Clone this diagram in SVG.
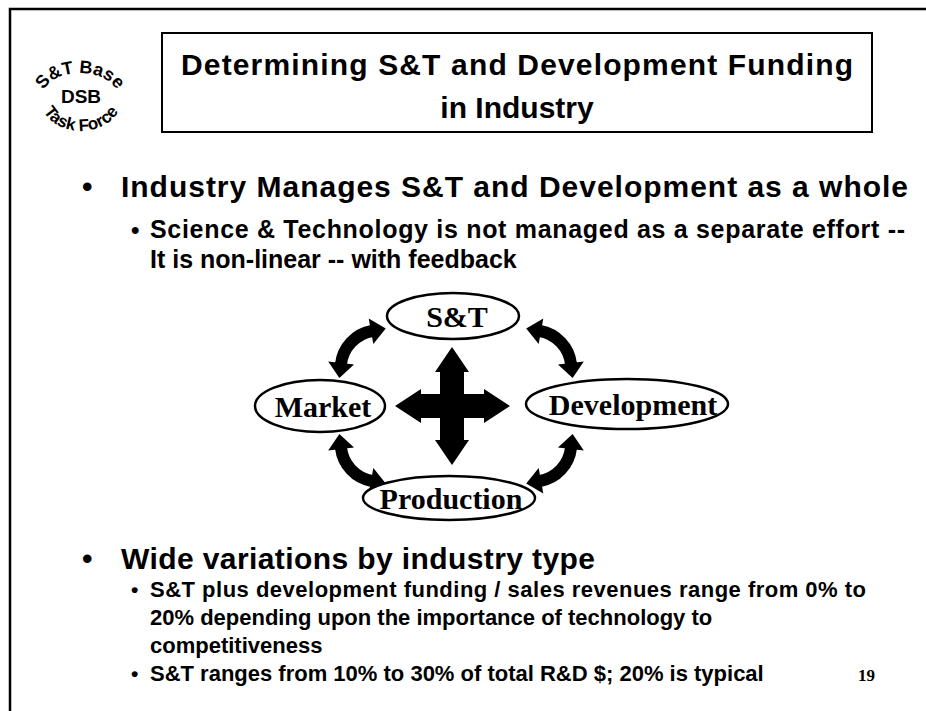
<svg xmlns="http://www.w3.org/2000/svg" width="926" height="711" viewBox="0 0 926 711">
<style>
.sans{font-family:"Liberation Sans",Arial,sans-serif;font-weight:bold;fill:#000}
.serif{font-family:"Liberation Serif","Times New Roman",serif;font-weight:bold;fill:#000}
.node ellipse{fill:#fff;stroke:#000;stroke-width:2.5}
.carrow{fill:none;stroke:#000;stroke-width:12;marker-start:url(#head);marker-end:url(#head)}
</style>
<defs>
<marker id="head" markerUnits="userSpaceOnUse" markerWidth="30" markerHeight="30" viewBox="-2 -15 20 30" refX="1" refY="0" orient="auto-start-reverse">
<path d="M0,-13 L15,0 L0,13 Z" fill="#000"/>
</marker>
<path id="arcTop" d="M 42 97 A 38 24 0 0 1 118 97"/>
<path id="arcBot" d="M 40 98 A 41 33 0 0 0 122 98"/>
</defs>
<rect width="926" height="711" fill="#fff"/>
<g id="frame" fill="none" stroke="#000" stroke-width="2.5">
<path d="M 10 711 L 10 9 L 926 9"/>
</g>
<g id="logo">
<text class="sans" font-size="18"><textPath href="#arcTop" startOffset="50%" text-anchor="middle">S&amp;T Base</textPath></text>
<text class="sans" x="81" y="103" font-size="19" text-anchor="middle">DSB</text>
<text class="sans" font-size="17"><textPath href="#arcBot" startOffset="50%" text-anchor="middle">Task Force</textPath></text>
</g>
<g id="title">
<rect x="162" y="33" width="710" height="99" fill="none" stroke="#000" stroke-width="2"/>
<text class="sans" x="517" y="75" font-size="30" text-anchor="middle" textLength="672">Determining S&amp;T and Development Funding</text>
<text class="sans" x="517" y="118" font-size="30" text-anchor="middle">in Industry</text>
</g>
<g id="bullets-top">
<text class="sans" x="82" y="197" font-size="30">•</text>
<text class="sans" x="121" y="197" font-size="30" textLength="787">Industry Manages S&amp;T and Development as a whole</text>
<text class="sans" x="131" y="238" font-size="24">•</text>
<text class="sans" x="150" y="238" font-size="25" textLength="755">Science &amp; Technology is not managed as a separate effort --</text>
<text class="sans" x="150" y="268" font-size="25">It is non-linear -- with feedback</text>
</g>
<g id="connectors">
<path class="carrow" d="M 372 331 A 38 38 0 0 0 341 364"/>
<path class="carrow" d="M 540 331 A 38 38 0 0 1 571 364"/>
<path class="carrow" d="M 372 481 A 38 38 0 0 1 341 448"/>
<path class="carrow" d="M 540 481 A 38 38 0 0 0 571 448"/>
<polygon fill="#000" points="452,347 469,372 464,372 464,394 484,394 484,389 510,406 484,423 484,418 464,418 464,440 469,440 452,465 435,440 440,440 440,418 421,418 421,423 395,406 421,389 421,394 440,394 440,372 435,372"/>
</g>
<g id="node-st" class="node">
<ellipse cx="453" cy="316" rx="66" ry="23"/>
<text class="serif" x="457" y="327" font-size="30" text-anchor="middle">S&amp;T</text>
</g>
<g id="node-market" class="node">
<ellipse cx="320" cy="406" rx="65" ry="26"/>
<text class="serif" x="323" y="417" font-size="30" text-anchor="middle">Market</text>
</g>
<g id="node-development" class="node">
<ellipse cx="627" cy="404" rx="101" ry="25"/>
<text class="serif" x="633" y="415" font-size="30" text-anchor="middle">Development</text>
</g>
<g id="node-production" class="node">
<ellipse cx="449" cy="498" rx="86" ry="22"/>
<text class="serif" x="451" y="509" font-size="30" text-anchor="middle">Production</text>
</g>
<g id="bullets-bottom">
<text class="sans" x="82" y="569" font-size="30">•</text>
<text class="sans" x="121" y="569" font-size="30" textLength="474">Wide variations by industry type</text>
<text class="sans" x="131" y="597" font-size="21">•</text>
<text class="sans" x="150" y="597" font-size="22" textLength="716">S&amp;T plus development funding / sales revenues range from 0% to</text>
<text class="sans" x="150" y="625" font-size="22">20% depending upon the importance of technology to</text>
<text class="sans" x="150" y="653" font-size="22">competitiveness</text>
<text class="sans" x="131" y="681" font-size="21">•</text>
<text class="sans" x="150" y="681" font-size="22">S&amp;T ranges from 10% to 30% of total R&amp;D $; 20% is typical</text>
</g>
<text class="serif" x="858" y="681" font-size="17" font-weight="normal">19</text>
</svg>
